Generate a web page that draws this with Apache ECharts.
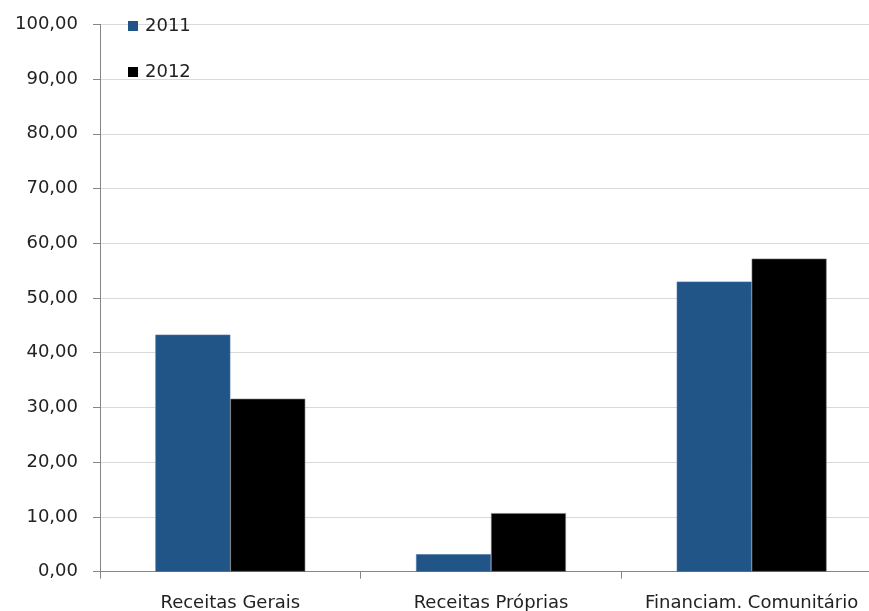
<!DOCTYPE html>
<html>
<head>
<meta charset="utf-8">
<script src="https://cdn.jsdelivr.net/npm/echarts@6/dist/echarts.min.js"></script>
<style>
  html, body { margin: 0; padding: 0; background: #fff; }
  #chart { width: 869px; height: 611px; }
</style>
</head>
<body>
<div id="chart"></div>
<script>
// Budget sources by year (percent)
const categories = ['Receitas Gerais', 'Receitas Próprias', 'Financiam. Comunitário'];
const seriesNames = ['2011', '2012'];
const values2011 = [43.3, 3.2, 53.0];
const values2012 = [31.6, 10.7, 57.2];

const FONT = '"DejaVu Sans", sans-serif';
const chart = echarts.init(document.getElementById('chart'));

chart.setOption({
  animation: false,
  textStyle: { fontFamily: FONT },
  legend: {
    orient: 'vertical',
    left: 123,
    top: 12,
    itemWidth: 10,
    itemHeight: 10,
    itemGap: 28,
    icon: 'rect',
    itemStyle: { borderWidth: 0 },
    textStyle: { fontSize: 18, color: '#222', fontFamily: FONT, padding: [0, 0, 0, 2] },
    data: seriesNames
  },
  grid: { left: 100, top: 24.3, bottom: 39.3, width: 782, outerBoundsMode: 'none', containLabel: false },
  xAxis: {
    type: 'category',
    data: categories,
    axisLine: { lineStyle: { color: '#868686' } },
    axisTick: { show: true, length: 7, lineStyle: { color: '#868686' } },
    axisLabel: { fontSize: 18, color: '#222', margin: 23, interval: 0, hideOverlap: false, fontFamily: FONT }
  },
  yAxis: {
    type: 'value',
    min: 0,
    max: 100,
    interval: 10,
    axisLine: { show: true, lineStyle: { color: '#868686' } },
    axisTick: { show: true, length: 7, lineStyle: { color: '#868686' } },
    splitLine: { lineStyle: { color: '#d9d9d9' } },
    axisLabel: {
      fontSize: 18, color: '#222', margin: 22, fontFamily: FONT,
      formatter: v => v.toFixed(2).replace('.', ',')
    }
  },
  series: [
    {
      name: seriesNames[0],
      type: 'bar',
      data: values2011,
      barGap: '0%',
      barCategoryGap: '42.5%',
      itemStyle: { color: '#215588', borderColor: '#4a74a4', borderWidth: 0.6 }
    },
    {
      name: seriesNames[1],
      type: 'bar',
      data: values2012,
      itemStyle: { color: '#000000', borderColor: '#7f7f7f', borderWidth: 0.6 }
    }
  ]
});
</script>
</body>
</html>
